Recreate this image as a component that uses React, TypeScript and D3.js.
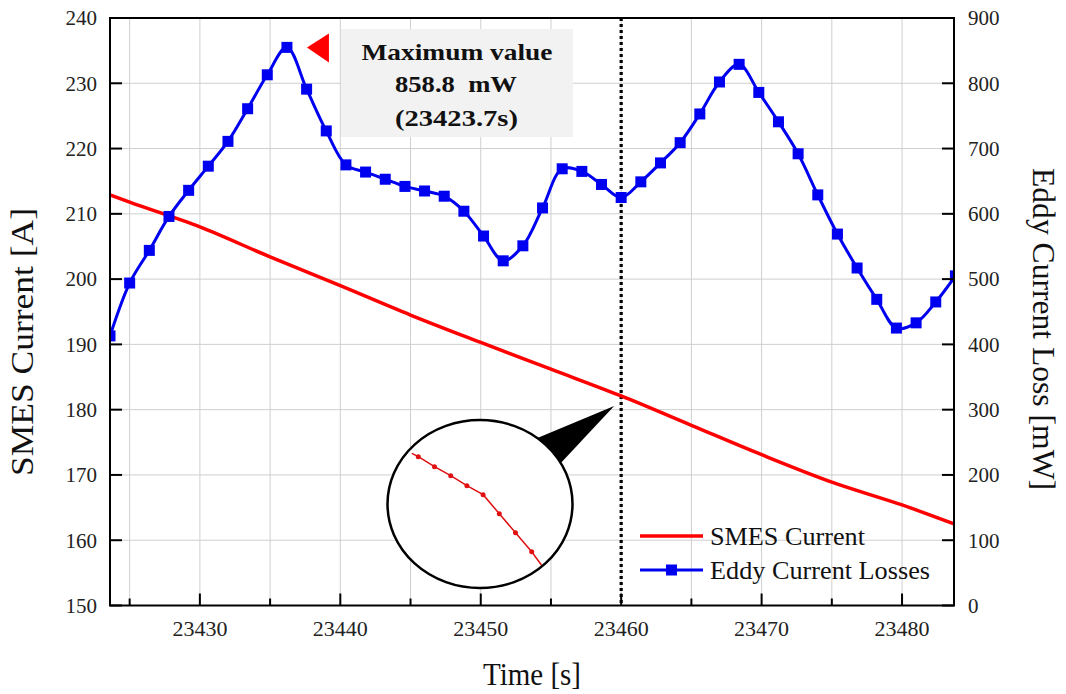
import * as d3 from 'd3';
import React from 'react';

// chart values
const timeTicks = [23430, 23440, 23450, 23460, 23470, 23480];
const currentTicks = [150, 160, 170, 180, 190, 200, 210, 220, 230, 240];
const lossTicks = [0, 100, 200, 300, 400, 500, 600, 700, 800, 900];

const smesTime = [23423.6, 23425, 23430, 23435, 23440, 23445, 23450, 23455, 23460, 23465, 23470, 23475, 23480, 23483.7];
const smesCurrent = [212.9, 211.8, 208.0, 203.4, 199.0, 194.5, 190.3, 186.2, 182.1, 177.6, 173.1, 168.9, 165.4, 162.5];

const eddyTime = [
  23423.6, 23425.0, 23426.4, 23427.8, 23429.2, 23430.6, 23432.0, 23433.4, 23434.8, 23436.2,
  23437.6, 23439.0, 23440.4, 23441.8, 23443.2, 23444.6, 23446.0, 23447.4, 23448.8, 23450.2,
  23451.6, 23453.0, 23454.4, 23455.8, 23457.2, 23458.6, 23460.0, 23461.4, 23462.8, 23464.2,
  23465.6, 23467.0, 23468.4, 23469.8, 23471.2, 23472.6, 23474.0, 23475.4, 23476.8, 23478.2,
  23479.6, 23481.0, 23482.4, 23483.8,
];
const eddyLoss = [
  413, 494, 544, 596, 636, 673, 711, 761, 813, 855,
  791, 727, 675, 664, 653, 642, 635, 627, 604, 566,
  528, 551, 609, 669, 665, 645, 625, 649, 678, 709,
  753, 802, 829, 786, 741, 692, 629, 569, 517, 469,
  425, 433, 465, 505,
];

// zoomed-in samples shown in the magnifier circle
const insetTime = [23459.78, 23459.8, 23459.85, 23459.9, 23459.95, 23460.0, 23460.05, 23460.1, 23460.15, 23460.18];
const insetCurrent = [182.434, 182.4, 182.3, 182.21, 182.11, 182.02, 181.83, 181.64, 181.45, 181.317];

const maxLabel = ['Maximum value', '858.8  mW', '(23423.7s)'];
const markerTime = 23460;

const serif = "'Liberation Serif', 'Times New Roman', serif";
const RED = '#ff0000';
const BLUE = '#0000f0';

export default function App() {
  const L = 110, R = 954, T = 18, B = 605.5;

  const x = d3.scaleLinear().domain([23423.6, 23483.7]).range([L, R]);
  const yL = d3.scaleLinear().domain([150, 240]).range([B, T]);
  const yR = d3.scaleLinear().domain([0, 900]).range([B, T]);

  const gridTimes = d3.range(23425, 23483, 5);

  const smesPath = d3
    .line<number>()
    .x((d, i) => x(smesTime[i]))
    .y((d) => yL(d))
    .curve(d3.curveMonotoneX)(smesCurrent) as string;

  const eddyPath = d3
    .line<number>()
    .x((d, i) => x(eddyTime[i]))
    .y((d) => yR(d))
    .curve(d3.curveCatmullRom.alpha(0.5))(eddyLoss) as string;

  // magnifier
  const cx = 480, cy = 504, rx = 92.5, ry = 84;
  const ix = d3.scaleLinear().domain([23459.8, 23460.15]).range([418.3, 531.7]);
  const iy = d3.scaleLinear().domain([181.45, 182.4]).range([551.7, 456.7]);
  const insetPath = d3
    .line<number>()
    .x((d, i) => ix(insetTime[i]))
    .y((d) => iy(d))(insetCurrent) as string;

  const tipX = x(markerTime) - 7;
  const tipY = yL(smesCurrent[smesTime.indexOf(markerTime)]) + 10;

  // max marker
  const iMax = eddyLoss.indexOf(d3.max(eddyLoss) as number);
  const triX = x(eddyTime[iMax]) + 20;
  const triY = yR(eddyLoss[iMax]);

  return (
    <svg width={1066} height={694} style={{ position: 'absolute', left: 0, top: 0, background: '#fff' }} fontFamily={serif}>
      <defs>
        <clipPath id="plot">
          <rect x={L} y={T} width={R - L} height={B - T} />
        </clipPath>
        <clipPath id="lens">
          <ellipse cx={cx} cy={cy} rx={rx - 1} ry={ry - 1} />
        </clipPath>
      </defs>

      {/* grid */}
      <g stroke="#cfcfcf" strokeWidth={1}>
        {gridTimes.map((t) => (
          <line key={'gv' + t} x1={x(t)} x2={x(t)} y1={T} y2={B} />
        ))}
        {currentTicks.slice(1, -1).map((c) => (
          <line key={'gh' + c} x1={L} x2={R} y1={yL(c)} y2={yL(c)} />
        ))}
      </g>

      {/* annotation box */}
      <rect x={341} y={29} width={232} height={108} fill="#f2f2f2" />
      <g fontWeight="bold" fontSize={24} textAnchor="middle" fill="#111">
        <text x={457} y={60} textLength={191} lengthAdjust="spacingAndGlyphs">{maxLabel[0]}</text>
        <text x={456} y={92} textLength={122} lengthAdjust="spacingAndGlyphs" style={{ whiteSpace: 'pre' }}>{maxLabel[1]}</text>
        <text x={456.5} y={126} textLength={123} lengthAdjust="spacingAndGlyphs">{maxLabel[2]}</text>
      </g>
      <path d={`M${triX},${triY}L${triX + 22},${triY - 14}L${triX + 22},${triY + 15}Z`} fill={RED} />

      {/* dotted marker line */}
      <line x1={x(markerTime)} x2={x(markerTime)} y1={T} y2={B} stroke="#000" strokeWidth={3.2} strokeDasharray="3,3" />

      {/* series */}
      <g clipPath="url(#plot)">
        <path d={smesPath} fill="none" stroke={RED} strokeWidth={3.5} />
        <path d={eddyPath} fill="none" stroke={BLUE} strokeWidth={3} />
        {eddyTime.map((t, i) => (
          <rect key={'m' + i} x={x(t) - 5.5} y={yR(eddyLoss[i]) - 5.5} width={11} height={11} fill={BLUE} />
        ))}
      </g>

      {/* magnifier callout */}
      <path d={`M${tipX},${tipY}L${cx + 55},${cy - 65}L${cx + 78},${cy - 38}Z`} fill="#000" />
      <ellipse cx={cx} cy={cy} rx={rx} ry={ry} fill="#fff" stroke="#000" strokeWidth={2.5} />
      <g clipPath="url(#lens)">
        <path d={insetPath} fill="none" stroke="#e01010" strokeWidth={1.5} />
        {insetCurrent.slice(1, -1).map((v, i) => (
          <circle key={'ic' + i} cx={ix(insetTime[i + 1])} cy={iy(v)} r={2.5} fill="#e01010" />
        ))}
      </g>

      {/* legend */}
      <line x1={640} x2={703} y1={536} y2={536} stroke={RED} strokeWidth={3.5} />
      <text x={710} y={545} fontSize={25} fill="#111" textLength={155} lengthAdjust="spacingAndGlyphs">SMES Current</text>
      <line x1={640} x2={703} y1={570} y2={570} stroke={BLUE} strokeWidth={3} />
      <rect x={666} y={564.5} width={11} height={11} fill={BLUE} />
      <text x={710} y={579} fontSize={25} fill="#111" textLength={220} lengthAdjust="spacingAndGlyphs">Eddy Current Losses</text>

      {/* frame and ticks */}
      <rect x={L} y={T} width={R - L} height={B - T} fill="none" stroke="#000" strokeWidth={2} />
      <g stroke="#000" strokeWidth={2}>
        {currentTicks.map((c) => (
          <line key={'tl' + c} x1={L} x2={L + 12} y1={yL(c)} y2={yL(c)} />
        ))}
        {lossTicks.map((v) => (
          <line key={'tr' + v} x1={R - 12} x2={R} y1={yR(v)} y2={yR(v)} />
        ))}
        {gridTimes.map((t) => (
          <line key={'tb' + t} x1={x(t)} x2={x(t)} y1={B} y2={B - (timeTicks.includes(t) ? 12 : 7)} />
        ))}
      </g>

      {/* tick labels */}
      <g fontSize={21} fill="#222">
        {currentTicks.map((c) => (
          <text key={'ll' + c} x={97} y={yL(c)} dy="0.35em" textAnchor="end">{c}</text>
        ))}
        {lossTicks.map((v) => (
          <text key={'rl' + v} x={968} y={yR(v)} dy="0.35em">{v}</text>
        ))}
        {timeTicks.map((t) => (
          <text key={'bl' + t} x={x(t)} y={636} textAnchor="middle" fontSize={22}>{t}</text>
        ))}
      </g>

      {/* axis titles */}
      <text x={532} y={685} textAnchor="middle" fontSize={32} fill="#111" textLength={98} lengthAdjust="spacingAndGlyphs">Time [s]</text>
      <text transform="translate(33,342) rotate(-90)" textAnchor="middle" fontSize={31} fill="#111" textLength={268} lengthAdjust="spacingAndGlyphs">SMES Current [A]</text>
      <text transform="translate(1033,329) rotate(90)" textAnchor="middle" fontSize={31} fill="#111" textLength={322} lengthAdjust="spacingAndGlyphs">Eddy Current Loss [mW]</text>
    </svg>
  );
}
